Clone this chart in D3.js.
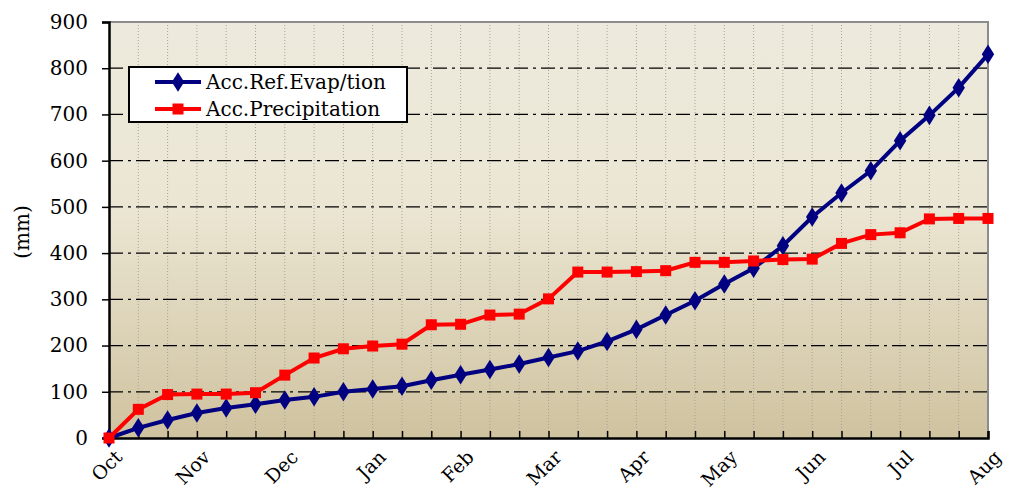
<!DOCTYPE html>
<html><head><meta charset="utf-8">
<script src="https://cdn.jsdelivr.net/npm/d3@7"></script>
<style>body{margin:0;background:#fff}svg{display:block}</style>
</head><body><svg id="c" width="1012" height="491"></svg>
<script>
const monthLabels = ["Oct","Nov","Dec","Jan","Feb","Mar","Apr","May","Jun","Jul","Aug"];
const evapValues = [0,22,39,54,65,73,82,89,100,106,112,125,137,148,160,174,188,209,235,266,297,333,367,416,478,530,578,643,698,758,830];
const precipValues = [0,62,94,95,95,98,136,173,193,199,203,245,246,266,268,301,359,359,360,362,380,380,383,386,387,421,440,444,474,475,475];
const yTicks = [0,100,200,300,400,500,600,700,800,900];
const seriesNames = ["Acc.Ref.Evap/tion","Acc.Precipitation"];

const FONT = "DejaVu Serif";
const FS = 20;
const svg = d3.select("#c");
const L=109,R=988,T=22,B=438;
const idx = d3.range(evapValues.length);
const x = d3.scaleLinear().domain([0, idx.length-1]).range([L,R]);
const y = d3.scaleLinear().domain([0,900]).range([B,T]);

const defs = svg.append("defs");
const g = defs.append("linearGradient").attr("id","bg").attr("x1",0).attr("y1",0).attr("x2",0).attr("y2",1);
g.append("stop").attr("offset","0%").attr("stop-color","#EDEADD");
g.append("stop").attr("offset","45%").attr("stop-color","#EBE6D3");
g.append("stop").attr("offset","100%").attr("stop-color","#CFC29F");
svg.append("rect").attr("x",L).attr("y",T).attr("width",R-L).attr("height",B-T).attr("fill","url(#bg)");

// vertical dotted grid
svg.append("g").selectAll("line").data(idx.slice(1,-1)).join("line")
  .attr("x1",d=>x(d)).attr("x2",d=>x(d)).attr("y1",T).attr("y2",B)
  .attr("stroke","#a8a395").attr("stroke-width",1).attr("stroke-dasharray","1,2");
// horizontal dash-dot grid
svg.append("g").selectAll("line").data(yTicks.filter(v=>v>0&&v<900)).join("line")
  .attr("x1",L).attr("x2",R).attr("y1",d=>y(d)).attr("y2",d=>y(d))
  .attr("stroke","#000").attr("stroke-width",1.3).attr("stroke-dasharray","14,5,3,5");
// top/right gray border
svg.append("path").attr("d",`M${L},${T}H${R}V${B}`).attr("fill","none").attr("stroke","#8c8c8c").attr("stroke-width",2);

// y axis
const yAxis = svg.append("g").attr("transform",`translate(${L},0)`)
  .call(d3.axisLeft(y).tickValues(yTicks).tickSize(7).tickPadding(14));
yAxis.attr("font-family",FONT).attr("font-size",FS);
yAxis.select(".domain").attr("stroke","#000").attr("stroke-width",2.5);
yAxis.selectAll(".tick line").attr("stroke","#000").attr("stroke-width",1.5);
yAxis.selectAll("text").attr("fill","#000");

// x axis
const xAxis = svg.append("g").attr("transform",`translate(0,${B})`)
  .call(d3.axisBottom(x).tickValues(idx).tickSize(-7).tickFormat(""));
xAxis.select(".domain").attr("stroke","#000").attr("stroke-width",2.5);
xAxis.selectAll(".tick line").attr("stroke","#000").attr("stroke-width",1.5);
svg.append("g").attr("font-family",FONT).attr("font-size",19)
  .selectAll("text").data(monthLabels).join("text")
  .attr("transform",(d,i)=>`translate(${x(i*3)+5},${B+11}) rotate(-45)`)
  .attr("text-anchor","end").attr("dy","0.7em")
  .attr("fill","#000").text(d=>d);

// y title
svg.append("text").attr("transform",`translate(29,232) rotate(-90)`)
  .attr("text-anchor","middle").attr("font-family",FONT).attr("font-size",FS).attr("fill","#000").text("(mm)");

const line = d3.line().x((d,i)=>x(i)).y(d=>y(d));
const diamond = d3.symbol().type(d3.symbolDiamond).size(110);
// evap
svg.append("path").datum(evapValues).attr("d",line).attr("fill","none").attr("stroke","#000080").attr("stroke-width",4);
svg.append("g").selectAll("path").data(evapValues).join("path")
  .attr("d",diamond).attr("transform",(d,i)=>`translate(${x(i)},${y(d)}) scale(1.1,1)`).attr("fill","#000080");
// precip
svg.append("path").datum(precipValues).attr("d",line).attr("fill","none").attr("stroke","#FF0000").attr("stroke-width",4);
svg.append("g").selectAll("rect").data(precipValues).join("rect")
  .attr("x",(d,i)=>x(i)-5.5).attr("y",d=>y(d)-5.5).attr("width",11).attr("height",11).attr("fill","#FF0000");

// legend
const lg = svg.append("g").attr("font-family",FONT).attr("font-size",FS);
lg.append("rect").attr("x",129).attr("y",67).attr("width",278).attr("height",55).attr("fill","#fff").attr("stroke","#000").attr("stroke-width",2);
const colors=["#000080","#FF0000"];
seriesNames.forEach((n,i)=>{
  const yy = 82+i*27;
  lg.append("line").attr("x1",155).attr("x2",201).attr("y1",yy).attr("y2",yy).attr("stroke",colors[i]).attr("stroke-width",4);
  if(i===0) lg.append("path").attr("d",diamond).attr("transform",`translate(178,${yy}) scale(1.1,1)`).attr("fill",colors[i]);
  else lg.append("rect").attr("x",172.5).attr("y",yy-5.5).attr("width",11).attr("height",11).attr("fill",colors[i]);
  lg.append("text").attr("x",206).attr("y",yy).attr("dy","0.35em").attr("fill","#000").text(n);
});
</script></body></html>
